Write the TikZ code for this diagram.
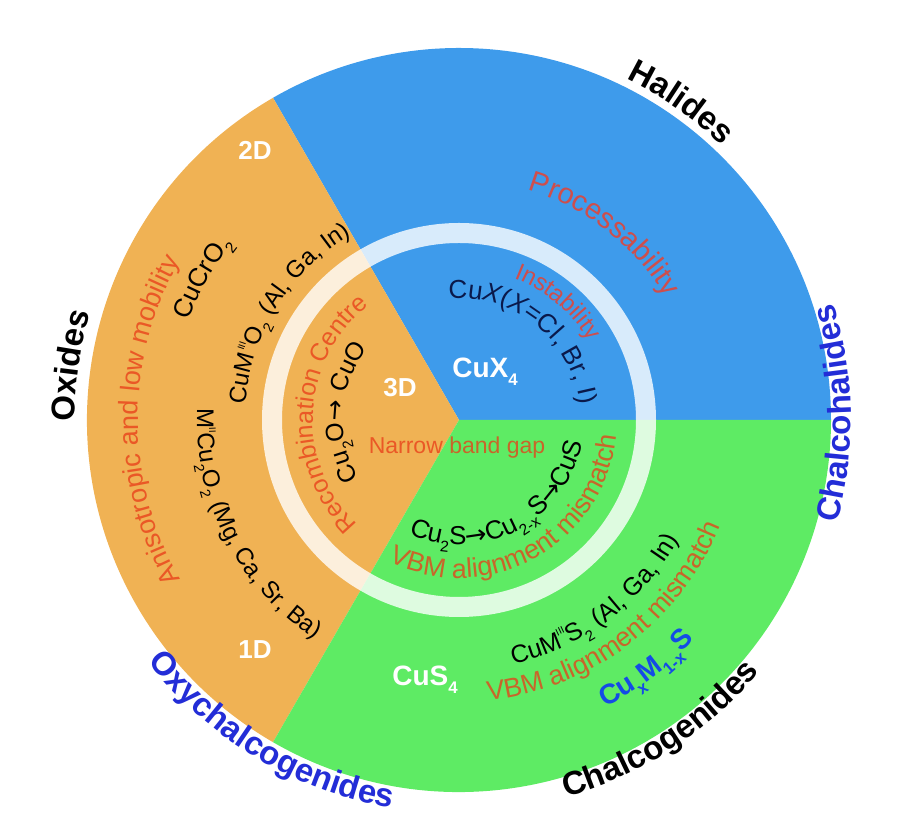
\documentclass[tikz,border=0pt]{standalone}
\usepackage{fontspec}
\setmainfont{Liberation Sans}
\newfontfamily\arrowfont{DejaVu Sans}
\usetikzlibrary{decorations.text}

\definecolor{SectorOrange}{RGB}{240,178,84}
\definecolor{SectorBlue}{RGB}{62,155,235}
\definecolor{SectorGreen}{RGB}{94,235,100}
\definecolor{NoteRed}{RGB}{234,88,38}
\definecolor{NoteRose}{RGB}{206,78,76}
\definecolor{NoteBrown}{RGB}{200,102,42}
\definecolor{LabelBlue}{RGB}{35,45,215}
\definecolor{FormulaBlue}{RGB}{20,75,230}
\definecolor{DeepNavy}{RGB}{10,25,75}

\makeatletter
\DeclareRobustCommand{\lowsub}[1]{\raisebox{-0.3em}{\fontsize{\fpeval{0.6*\f@size}}{1}\selectfont #1}}
\DeclareRobustCommand{\highsup}[1]{\raisebox{0.5em}{\fontsize{\fpeval{0.4*\f@size}}{1}\selectfont #1}}
\makeatother

\begin{document}
\begin{tikzpicture}[x=0.5pt, y=0.5pt,
                ring/.style={fill=white, fill opacity=0.8, even odd rule},
                curved/.style={decorate, decoration={text along path, text align=center}},
                dimlabel/.style={white, font=\fontsize{13}{15}\selectfont\bfseries},
                gaplabel/.style={font=\fontsize{11.5}{13}\selectfont}
            ]
                \useasboundingbox (-459,-413) rectangle (450,420);

                % Sectors
                \fill[SectorBlue] (0,0) -- (0:372) arc[start angle=0, end angle=120, radius=372] -- cycle;
                \fill[SectorOrange] (0,0) -- (120:372) arc[start angle=120, end angle=240, radius=372] -- cycle;
                \fill[SectorGreen] (0,0) -- (240:372) arc[start angle=240, end angle=360, radius=372] -- cycle;

                % Inner ring
                \path[ring] (0,0) circle[radius=197] (0,0) circle[radius=177];

                % Outer class names
                \path[curved, decoration={text={|\fontsize{16.5}{18}\selectfont\bfseries\color{black}|Halides}}] (135:380) arc[start angle=135, end angle=-25, radius=380];
                \path[curved, decoration={text={|\fontsize{16.5}{18}\selectfont\bfseries\color{black}|Oxides}}] (252:384) arc[start angle=252, end angle=92, radius=384];
                \path[curved, decoration={text={|\fontsize{16.5}{18}\selectfont\bfseries\color{LabelBlue}|Chalcohalides}}] (-79:392) arc[start angle=-79, end angle=81, radius=392];
                \path[curved, decoration={text={|\fontsize{16.5}{18}\selectfont\bfseries\color{LabelBlue}|Oxychalcogenides}}] (159:394) arc[start angle=159, end angle=319, radius=394];
                \path[curved, decoration={text={|\fontsize{16.5}{18}\selectfont\bfseries\color{black}|Chalcogenides}}] (223:392) arc[start angle=223, end angle=383, radius=392];

                % Oxides (outer band)
                \node[dimlabel] (twoD) at (-204,270) {2D};
                \node[dimlabel] (oneD) at (-204,-230) {1D};
                \path[curved, decoration={text={|\fontsize{13.5}{15}\selectfont\color{NoteRed}|Anisotropic and low mobility}}] (260:321) arc[start angle=260, end angle=100, radius=321];
                \path[curved, decoration={text={|\fontsize{13}{15}\selectfont\color{black}|CuCrO{\lowsub{2}}}}] (211:288) arc[start angle=211, end angle=91, radius=288];
                \path[curved, decoration={text={|\fontsize{12}{14}\selectfont\color{black}|CuM{\highsup{III}}O{\lowsub{2}} (Al, Ga, In)}}] (218:214) arc[start angle=218, end angle=78, radius=214];
                \path[curved, decoration={text={|\fontsize{12}{14}\selectfont\color{black}|M{\highsup{II}}Cu{\lowsub{2}}O{\lowsub{2}} (Mg, Ca, Sr, Ba)}}] (137:262) arc[start angle=137, end angle=277, radius=262];

                % Halides (outer band)
                \path[curved, decoration={text={|\fontsize{14.5}{16}\selectfont\color{NoteRose}|Processability}}] (122:240) arc[start angle=122, end angle=-18, radius=240];

                % Chalcogenides (outer band)
                \node[dimlabel, font=\fontsize{14}{16}\selectfont\bfseries] (cusfour) at (-34,-260) {CuS\lowsub{4}};
                \path[curved, decoration={text={|\fontsize{12.5}{14}\selectfont\color{black}|CuM{\highsup{III}}S{\lowsub{2}} (Al, Ga, In)}}] (237:250) arc[start angle=237, end angle=377, radius=250];
                \path[curved, decoration={text={|\fontsize{13.5}{15}\selectfont\color{NoteBrown}|VBM alignment mismatch}}] (237:282) arc[start angle=237, end angle=377, radius=282];
                \path[curved, decoration={text={|\fontsize{14}{16}\selectfont\bfseries\color{FormulaBlue}|Cu{\lowsub{x}}M{\lowsub{1-x}}S}}] (257:322) arc[start angle=257, end angle=357, radius=322];

                % Inner disc
                \node[dimlabel] (threeD) at (-59,32) {3D};
                \node[dimlabel, font=\fontsize{14}{16}\selectfont\bfseries] (cuxfour) at (26,48) {CuX\lowsub{4}};
                \path[curved, decoration={text={|\fontsize{12}{14}\selectfont\color{NoteRose}|Instability}}] (120:152) arc[start angle=120, end angle=-20, radius=152];
                \path[curved, decoration={text={|\fontsize{13}{15}\selectfont\color{DeepNavy}|Cu{\itshape X}({\itshape X}=Cl, Br, I)}}] (131:122) arc[start angle=131, end angle=-29, radius=122];
                \path[curved, decoration={text={|\fontsize{12.5}{14}\selectfont\color{NoteRed}|Recombination Centre}}] (257:146) arc[start angle=257, end angle=97, radius=146];
                \path[curved, decoration={text={|\fontsize{12.5}{14}\selectfont\color{black}|Cu{\lowsub{2}}O{\arrowfont →} CuO}}] (236:116) arc[start angle=236, end angle=116, radius=116];
                \node[gaplabel] (gap) at (-2,-28) {\textcolor{NoteRed}{Narrow} \textcolor{NoteBrown}{band gap}};
                \path[curved, decoration={text={|\fontsize{13}{15}\selectfont\color{black}|Cu{\lowsub{2}}S{\arrowfont →}Cu{\lowsub{2-x}}S{\arrowfont →}CuS}}] (218:125) arc[start angle=218, end angle=378, radius=125];
                \path[curved, decoration={text={|\fontsize{13.5}{15}\selectfont\color{NoteBrown}|VBM alignment mismatch}}] (219:158) arc[start angle=219, end angle=379, radius=158];
            \end{tikzpicture}
\end{document}
